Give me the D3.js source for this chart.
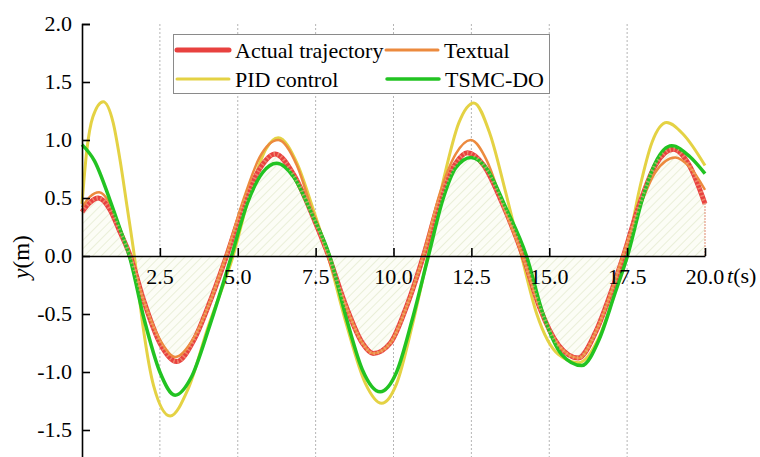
<!DOCTYPE html>
<html>
<head>
<meta charset="utf-8">
<script src="https://cdn.jsdelivr.net/npm/d3@7"></script>
<style>
  body { margin: 0; background: #fff; }
  svg { display: block; }
</style>
</head>
<body>
<script>
'use strict';

// values
let tActual = [0, 0.25, 0.52, 0.9, 1.2, 1.55, 2.0, 2.5, 3.04, 3.6, 4.1, 4.64, 5.2, 5.7, 6.2, 6.8, 7.4, 7.92,
  8.5, 9.0, 9.35, 9.9, 10.4, 10.96, 11.5, 12.0, 12.37, 12.9, 13.5, 14.16, 14.7, 15.3, 15.93, 16.5, 17.0, 17.38,
  17.9, 18.4, 18.98, 19.5, 20];
let yActual = [0.38, 0.46, 0.50, 0.40, 0.22, 0.0, -0.40, -0.75, -0.91, -0.72, -0.40, 0.0, 0.45, 0.75, 0.88, 0.70, 0.35, 0.0,
  -0.45, -0.75, -0.84, -0.75, -0.45, 0.0, 0.50, 0.80, 0.89, 0.78, 0.45, 0.0, -0.45, -0.77, -0.88, -0.65, -0.30, 0.0,
  0.45, 0.78, 0.92, 0.78, 0.45];

let tTextual = [0, 0.25, 0.55, 0.9, 1.2, 1.55, 2.0, 2.5, 3.0, 3.6, 4.1, 4.62, 5.2, 5.7, 6.3, 6.9, 7.4, 7.9,
  8.5, 9.0, 9.35, 9.9, 10.4, 10.95, 11.5, 12.0, 12.48, 13.0, 13.5, 14.14, 14.7, 15.3, 15.95, 16.5, 17.0, 17.36,
  17.9, 18.4, 19.04, 19.5, 20];
let yTextual = [0.42, 0.51, 0.55, 0.45, 0.25, 0.0, -0.40, -0.72, -0.87, -0.70, -0.40, 0.0, 0.50, 0.85, 1.00, 0.78, 0.38, 0.0,
  -0.45, -0.75, -0.84, -0.75, -0.45, 0.0, 0.55, 0.88, 1.00, 0.82, 0.45, 0.0, -0.45, -0.77, -0.88, -0.65, -0.30, 0.0,
  0.42, 0.72, 0.85, 0.77, 0.57];

let tPID = [0, 0.15, 0.35, 0.68, 1.0, 1.22, 1.45, 1.68, 1.96, 2.3, 2.83, 3.4, 4.05, 4.85, 5.4, 5.9, 6.3, 6.9, 7.4, 7.9,
  8.5, 9.1, 9.62, 10.1, 10.6, 11.1, 11.6, 12.1, 12.58, 13.1, 13.6, 14.11, 14.6, 15.3, 15.95, 16.6, 17.1, 17.46,
  17.9, 18.3, 18.77, 19.3, 20];
let yPID = [0.45, 0.90, 1.20, 1.33, 1.15, 0.83, 0.42, 0.0, -0.61, -1.12, -1.38, -1.15, -0.61, 0.0, 0.55, 0.92, 1.02, 0.80, 0.42, 0.0,
  -0.60, -1.10, -1.27, -1.10, -0.60, 0.0, 0.65, 1.15, 1.32, 1.05, 0.55, 0.0, -0.50, -0.85, -0.92, -0.70, -0.32, 0.0,
  0.58, 0.98, 1.15, 1.05, 0.78];

let tTSMC = [0, 0.4, 0.9, 1.2, 1.52, 2.0, 2.5, 2.99, 3.5, 4.1, 4.8, 5.3, 5.8, 6.25, 6.8, 7.4, 7.95,
  8.5, 9.0, 9.57, 10.1, 10.6, 11.12, 11.6, 12.0, 12.49, 13.0, 13.6, 14.27, 14.8, 15.4, 16.04, 16.6, 17.1, 17.51,
  18.0, 18.4, 18.93, 19.5, 20];
let yTSMC = [0.96, 0.82, 0.48, 0.25, 0.0, -0.55, -1.00, -1.20, -1.05, -0.60, 0.0, 0.45, 0.72, 0.80, 0.68, 0.35, 0.0,
  -0.55, -0.98, -1.17, -1.00, -0.55, 0.0, 0.50, 0.76, 0.85, 0.75, 0.42, 0.0, -0.50, -0.85, -0.945, -0.72, -0.33, 0.0,
  0.50, 0.80, 0.95, 0.86, 0.71];

let xTicks = [2.5, 5.0, 7.5, 10.0, 12.5, 15.0, 17.5, 20.0];
let yTicks = [2.0, 1.5, 1.0, 0.5, 0.0, -0.5, -1.0, -1.5];

let seriesNames = ['Actual trajectory', 'Textual', 'PID control', 'TSMC-DO'];
let seriesColors = ['#e8413f', '#ec8a3e', '#e4d244', '#22c322'];

let w = 760, h = 457;
let font = '"Liberation Serif", "Times New Roman", serif';

let svg = d3.select('body')
    .append('svg')
    .attr('width', w)
    .attr('height', h);

let x = d3.scaleLinear().domain([0, 20]).range([82, 705]);
let y = d3.scaleLinear().domain([-1.75, 2]).range([459, 24]);

let zip = (ts, vs) => ts.map((t, i) => [t, vs[i]]);

// hatch pattern for the area under the actual trajectory
let defs = svg.append('defs');
let pat = defs.append('pattern')
    .attr('id', 'hatch')
    .attr('patternUnits', 'userSpaceOnUse')
    .attr('width', 6)
    .attr('height', 6)
    .attr('patternTransform', 'rotate(45)');
pat.append('rect')
    .attr('width', 6).attr('height', 6)
    .attr('fill', '#fcfdf6');
pat.append('line')
    .attr('x1', 0).attr('y1', 0).attr('x2', 0).attr('y2', 6)
    .attr('stroke', '#e4ebd0')
    .attr('stroke-width', 1.5);

// vertical dotted grid
svg.selectAll('line.grid')
    .data(xTicks.filter(d => d < 20))
    .enter()
    .append('line')
    .attr('class', 'grid')
    .attr('x1', d => x(d)).attr('x2', d => x(d))
    .attr('y1', y(2)).attr('y2', h)
    .attr('stroke', '#b5b5b5')
    .attr('stroke-width', 1)
    .attr('stroke-dasharray', '2,2');

let area = d3.area()
    .x(d => x(d[0]))
    .y0(y(0))
    .y1(d => y(d[1]))
    .curve(d3.curveMonotoneX);

svg.append('path')
    .datum(zip(tActual, yActual))
    .attr('d', area)
    .attr('fill', 'url(#hatch)');

svg.append('line')
    .attr('x1', x(20)).attr('x2', x(20))
    .attr('y1', y(0)).attr('y2', y(yActual[yActual.length - 1]))
    .attr('stroke', '#e08a70')
    .attr('stroke-width', 1)
    .attr('stroke-dasharray', '2,1');

let line = d3.line()
    .x(d => x(d[0]))
    .y(d => y(d[1]))
    .curve(d3.curveMonotoneX);

let curves = [
  {data: zip(tPID, yPID), color: seriesColors[2], width: 3},
  {data: zip(tActual, yActual), color: seriesColors[0], width: 5},
  {data: zip(tTextual, yTextual), color: seriesColors[1], width: 2.5},
  {data: zip(tTSMC, yTSMC), color: seriesColors[3], width: 3.5}
];

svg.selectAll('path.curve')
    .data(curves)
    .enter()
    .append('path')
    .attr('class', 'curve')
    .attr('d', d => line(d.data))
    .attr('fill', 'none')
    .attr('stroke', d => d.color)
    .attr('stroke-width', d => d.width)
    .attr('stroke-linejoin', 'round');

// hatch over the thick red line, like the reference
svg.append('path')
    .datum(zip(tActual, yActual))
    .attr('d', line)
    .attr('fill', 'none')
    .attr('stroke', '#f3b08a')
    .attr('stroke-width', 4)
    .attr('stroke-dasharray', '1.5,2.5')
    .attr('opacity', 0.6);

// axes
let yAxis = d3.axisRight(y)
    .tickValues(yTicks)
    .tickSize(8)
    .tickFormat('');
svg.append('g')
    .attr('transform', 'translate(' + x(0) + ',0)')
    .call(yAxis)
    .call(g => g.selectAll('path, line').attr('stroke', '#000').attr('stroke-width', 1.6));

svg.selectAll('text.ylab')
    .data(yTicks)
    .enter()
    .append('text')
    .attr('class', 'ylab')
    .text(d => d.toFixed(1))
    .attr('x', x(0) - 10)
    .attr('y', d => y(d) + 7)
    .attr('text-anchor', 'end')
    .attr('font-family', font)
    .attr('font-size', '22px')
    .attr('fill', '#000');

let xAxis = d3.axisTop(x)
    .tickValues(xTicks)
    .tickSize(8)
    .tickSizeOuter(0)
    .tickFormat('');
svg.append('g')
    .attr('transform', 'translate(0,' + y(0) + ')')
    .call(xAxis)
    .call(g => g.selectAll('path, line').attr('stroke', '#000').attr('stroke-width', 1.6));

svg.selectAll('text.xlab')
    .data(xTicks)
    .enter()
    .append('text')
    .attr('class', 'xlab')
    .text(d => d.toFixed(1))
    .attr('x', d => x(d))
    .attr('y', y(0) + 28)
    .attr('text-anchor', 'middle')
    .attr('font-family', font)
    .attr('font-size', '22px')
    .attr('fill', '#000');

let tLab = svg.append('text')
    .attr('x', 727)
    .attr('y', y(0) + 27)
    .attr('font-family', font)
    .attr('font-size', '22px');
tLab.append('tspan').attr('font-style', 'italic').text('t');
tLab.append('tspan').text('(s)');

let yLab = svg.append('text')
    .attr('transform', 'translate(29,' + (y(0) + 1) + ') rotate(-90)')
    .attr('text-anchor', 'middle')
    .attr('font-family', font)
    .attr('font-size', '23px');
yLab.append('tspan').attr('font-style', 'italic').text('y');
yLab.append('tspan').text('(m)');

// legend
let legend = svg.append('g');
legend.append('rect')
    .attr('x', 173.5).attr('y', 34.5)
    .attr('width', 376).attr('height', 59)
    .attr('fill', '#fff')
    .attr('stroke', '#8a8a8a')
    .attr('stroke-width', 1);

let legendItems = [
  {name: seriesNames[0], color: seriesColors[0], width: 5, lx: 177, ly: 50},
  {name: seriesNames[1], color: seriesColors[1], width: 3, lx: 386, ly: 50},
  {name: seriesNames[2], color: seriesColors[2], width: 3, lx: 177, ly: 79},
  {name: seriesNames[3], color: seriesColors[3], width: 3.5, lx: 387, ly: 79}
];

legend.selectAll('line')
    .data(legendItems)
    .enter()
    .append('line')
    .attr('x1', d => d.lx).attr('x2', d => d.lx + 52)
    .attr('y1', d => d.ly).attr('y2', d => d.ly)
    .attr('stroke', d => d.color)
    .attr('stroke-width', d => d.width)
    .attr('stroke-linecap', 'round');

legend.selectAll('text')
    .data(legendItems)
    .enter()
    .append('text')
    .text(d => d.name)
    .attr('x', d => d.lx + 58)
    .attr('y', d => d.ly + 8)
    .attr('font-family', font)
    .attr('font-size', '22px')
    .attr('fill', '#000');
</script>
</body>
</html>
